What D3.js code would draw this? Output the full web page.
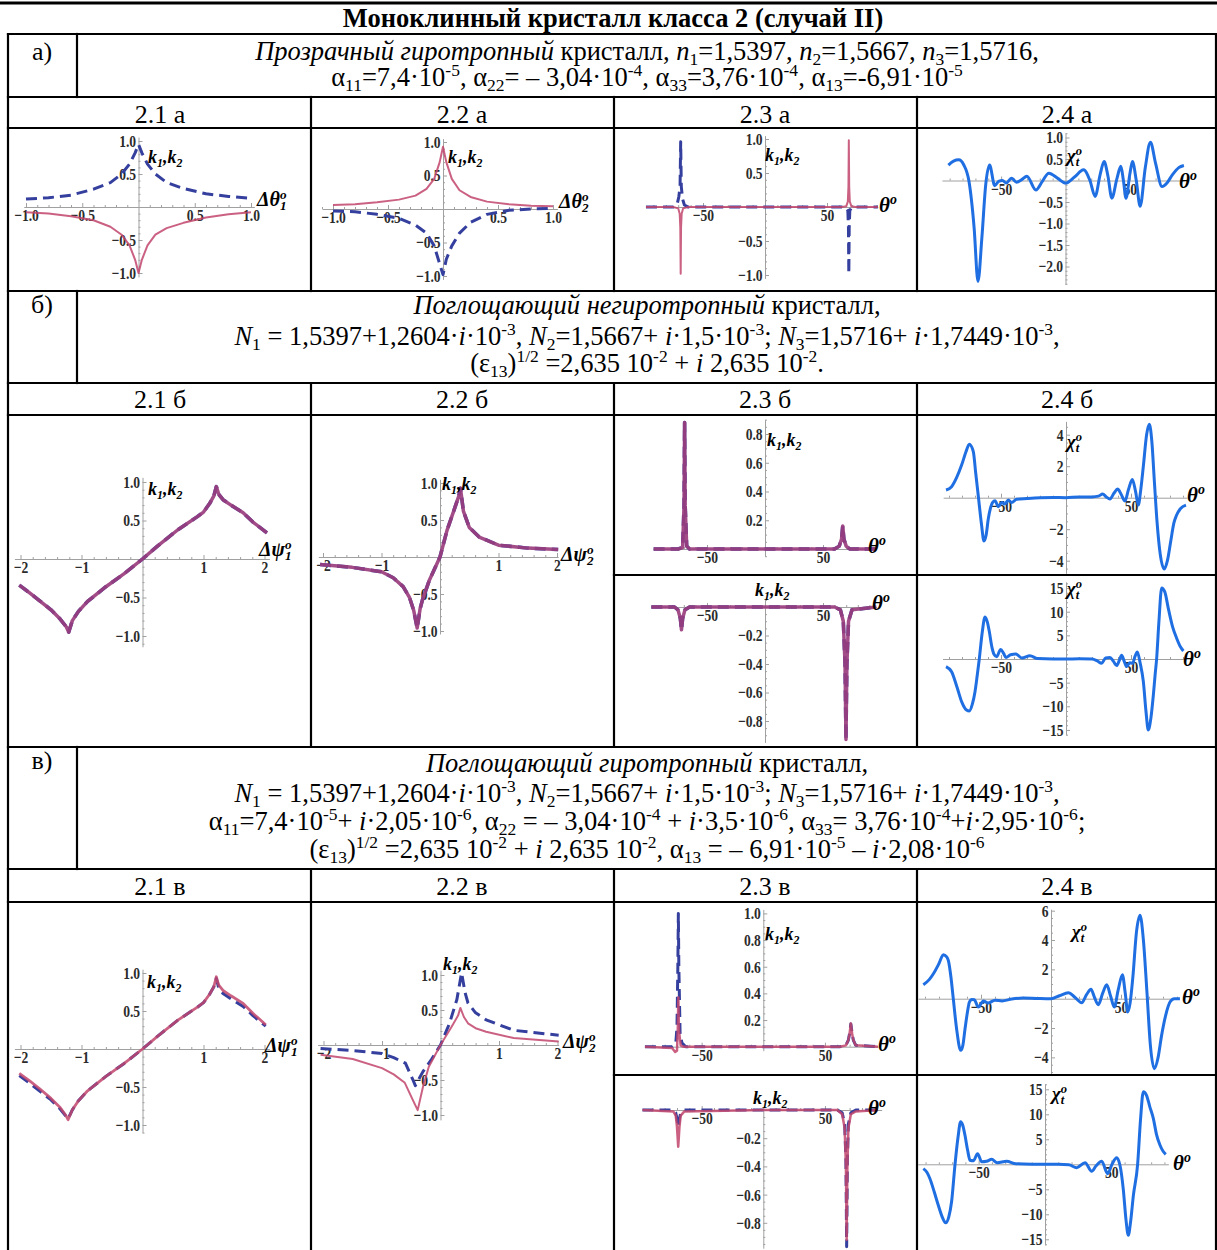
<!DOCTYPE html>
<html lang="ru">
<head>
<meta charset="UTF-8">
<title>Моноклинный кристалл класса 2 (случай II)</title>
<script src="https://d3js.org/d3.v7.min.js"></script>
<style>
  body { margin: 0; background: #fff; }
  svg text { font-family: "Liberation Serif", "Times New Roman", serif; white-space: pre; fill: #000; }
  .ax path, .ax line { stroke: #a0a0a0; stroke-width: 1; }
</style>
</head>
<body>
<svg id="chart" width="1217" height="1250"></svg>
<script>
// ---------- texts ----------
const titleText = "Моноклинный кристалл класса 2 (случай II)";
const rowMarks = ["а)", "б)", "в)"];
const rowAText = [
  "<i>Прозрачный гиротропный</i> кристалл, <i>n</i>_{1}=1,5397, <i>n</i>_{2}=1,5667, <i>n</i>_{3}=1,5716,",
  "α_{11}=7,4·10^{-5}, α_{22}= – 3,04·10^{-4}, α_{33}=3,76·10^{-4}, α_{13}=-6,91·10^{-5}"
];
const rowBText = [
  "<i>Поглощающий негиротропный</i> кристалл,",
  "<i>N</i>_{1} = 1,5397+1,2604·<i>i</i>·10^{-3}, <i>N</i>_{2}=1,5667+ <i>i</i>·1,5·10^{-3}; <i>N</i>_{3}=1,5716+ <i>i</i>·1,7449·10^{-3},",
  "(ε_{13})^{1/2} =2,635 10^{-2} + <i>i</i> 2,635 10^{-2}."
];
const rowCText = [
  "<i>Поглощающий гиротропный</i> кристалл,",
  "<i>N</i>_{1} = 1,5397+1,2604·<i>i</i>·10^{-3}, <i>N</i>_{2}=1,5667+ <i>i</i>·1,5·10^{-3}; <i>N</i>_{3}=1,5716+ <i>i</i>·1,7449·10^{-3},",
  "α_{11}=7,4·10^{-5}+ <i>i</i>·2,05·10^{-6}, α_{22} = – 3,04·10^{-4} + <i>i</i>·3,5·10^{-6}, α_{33}= 3,76·10^{-4}+<i>i</i>·2,95·10^{-6};",
  "(ε_{13})^{1/2} =2,635 10^{-2} + <i>i</i> 2,635 10^{-2}, α_{13} = – 6,91·10^{-5} – <i>i</i>·2,08·10^{-6}"
];
const colNames = ["2.1", "2.2", "2.3", "2.4"];
const rowLetters = ["а", "б", "в"];

const labK = "<i>k_{1},k_{2}</i>";
const labTheta = "<i>θ^{o}</i>";
const labChi = "<i>χ_{t}^{o}</i>";
const labDTheta1 = "<i>Δθ_{1}^{o}</i>";
const labDTheta2 = "<i>Δθ_{2}^{o}</i>";
const labDPsi1 = "<i>Δψ_{1}^{o}</i>";
const labDPsi2 = "<i>Δψ_{2}^{o}</i>";

// ---------- data: row а ----------
const a21_x = [-1, -0.8, -0.6, -0.4, -0.25, -0.15, -0.08, -0.03, 0, 0.03, 0.08, 0.15, 0.25, 0.4, 0.6, 0.8, 1];
const a21_dash = [0.12, 0.14, 0.18, 0.27, 0.37, 0.5, 0.65, 0.82, 0.95, 0.82, 0.65, 0.5, 0.37, 0.28, 0.2, 0.16, 0.13];
const a21_solid = [-0.08, -0.1, -0.14, -0.2, -0.3, -0.42, -0.58, -0.8, -1.0, -0.8, -0.58, -0.42, -0.32, -0.24, -0.16, -0.11, -0.08];

const a22_x = [-1, -0.8, -0.6, -0.4, -0.25, -0.15, -0.08, -0.03, 0, 0.03, 0.08, 0.15, 0.25, 0.4, 0.6, 0.8, 1];
const a22_solid = [0.06, 0.07, 0.1, 0.14, 0.2, 0.3, 0.45, 0.7, 0.93, 0.7, 0.45, 0.28, 0.18, 0.11, 0.07, 0.05, 0.04];
const a22_dash = [-0.03, -0.04, -0.08, -0.14, -0.24, -0.36, -0.55, -0.82, -0.98, -0.75, -0.55, -0.36, -0.2, -0.08, -0.02, 0.0, 0.01];

const a23_xd = [-96, -74, -71, -69.5, -68.5, -68, -67.5, -66.5, -65, -62, 0, 62, 65.5, 66.8, 67.3, 67.6, 67.9, 68.4, 69.7, 73, 91];
const a23_dash = [0, 0, 0.03, 0.15, 0.3, 0.96, 0.3, 0.12, 0.03, 0, 0, 0, -0.01, -0.05, -0.3, -0.98, -0.3, -0.05, -0.01, 0, 0];
const a23_xs = [-96, -74, -70, -68.8, -68.3, -68, -67.7, -67.2, -66, -62, 0, 62, 65.5, 66.8, 67.3, 67.6, 67.9, 68.4, 69.7, 73, 91];
const a23_solid = [0, 0, -0.02, -0.1, -0.3, -0.98, -0.3, -0.1, -0.02, 0, 0, 0, 0.01, 0.08, 0.3, 0.98, 0.3, 0.08, 0.01, 0, 0];

const a24_x = [-91, -87, -83, -79, -75, -71, -68, -65, -62, -59, -55, -52, -49, -46, -42, -38, -34, -30, -23, -18, -13, -6, 0,
  7, 14, 19, 23, 27, 30, 33, 36, 40, 43, 45, 47, 50, 52, 55, 58, 62, 66, 70, 75, 79, 83, 88, 92];
const a24_chi = [0.36, 0.45, 0.48, 0.36, -0.02, -1.1, -2.35, -1.34, -0.1, 0.36, -0.12, -0.02, 0.0, -0.06, 0.05, -0.04, 0.02, 0.1, -0.22, -0.02, 0.17, 0.05, -0.06,
  0.08, 0.25, 0.0, -0.37, 0.15, 0.44, 0.1, -0.41, 0.05, 0.33, 0.0, -0.41, 0.15, 0.44, 0.0, -0.6, 0.3, 0.89, 0.4, -0.14, -0.05, 0.13, 0.3, 0.35];

// ---------- data: row б ----------
const b21_x = [-2.02, -1.85, -1.69, -1.5, -1.35, -1.25, -1.21, -1.15, -1.05, -0.9, -0.6, -0.3, 0, 0.25, 0.58, 0.9, 1.0, 1.1, 1.17, 1.21, 1.25, 1.32, 1.45, 1.65, 1.81, 2.04];
const b21_k = [-0.34, -0.44, -0.54, -0.66, -0.78, -0.88, -0.95, -0.8, -0.68, -0.55, -0.36, -0.19, 0, 0.17, 0.38, 0.55, 0.61, 0.72, 0.82, 0.94, 0.84, 0.77, 0.7, 0.6, 0.48, 0.34];

const b22_x = [-2.05, -1.5, -1.0, -0.8, -0.63, -0.52, -0.45, -0.39, -0.34, -0.3, -0.18, 0, 0.12, 0.26, 0.32, 0.35, 0.4, 0.5, 0.67, 1.0, 1.5, 2.02];
const b22_k = [-0.1, -0.14, -0.2, -0.28, -0.4, -0.55, -0.72, -0.96, -0.7, -0.58, -0.31, 0, 0.36, 0.68, 0.82, 0.93, 0.62, 0.4, 0.27, 0.16, 0.12, 0.1];

const b23u_x = [-96, -75, -71, -69.8, -69.3, -68.8, -67.5, -65, 0, 60, 64, 66, 67, 68, 70, 73, 96];
const b23u_k = [0, 0, 0.01, 0.3, 0.88, 0.3, 0.02, 0, 0, 0, 0.02, 0.07, 0.16, 0.07, 0.02, 0, 0];
const b23l_x = [-98, -78, -75, -73, -72, -71, -69, -65, 0, 60, 65, 67.5, 69, 69.8, 70.6, 72, 75, 96];
const b23l_k = [0, 0, -0.02, -0.08, -0.16, -0.08, -0.02, 0, 0, 0, -0.02, -0.1, -0.4, -0.93, -0.4, -0.1, -0.02, 0];

const b24u_x = [-92.3, -88, -84, -80.3, -77, -74.4, -71.3, -69.5, -67.4, -65, -63.1, -61.5, -59.7, -56.4, -54.6, -52, -49.5, -47, -44.4, -41.8, -38, -30, -20, -10, 0,
  10, 20, 25, 28.2, 31, 33.8, 37, 39.7, 42.5, 45.4, 48, 51, 53.5, 55.6, 57.5, 59.5, 62, 64.1, 66, 68, 70, 72.5, 75.6, 78, 80.5, 83, 85.1, 88, 92.3];
const b24u_chi = [0.49, 0.7, 1.3, 2.07, 2.9, 3.39, 2.92, 1.6, 0.06, -1.7, -2.75, -2.4, -1.31, -0.3, -0.2, -0.57, -0.3, -0.4, -0.15, -0.3, -0.1, -0.05, 0, 0.02, 0,
  0.05, 0.05, 0.1, 0.23, 0.05, -0.08, 0.3, 0.55, 0.2, -0.21, 0.5, 1.16, 0.4, -0.47, 0.5, 2.0, 4.0, 4.66, 3.6, 1.0, -1.5, -3.6, -4.53, -4.0, -2.8, -1.6, -1.1, -0.7, -0.47];

const b24l_x = [-92.3, -88, -84, -80.3, -76.5, -74.4, -72, -70, -68.3, -66.7, -64.5, -62.3, -60.5, -59, -57, -55.4, -53.3, -50.3, -48, -46.2, -42.6, -38.5, -34, -27.7, -22, -10, 0,
  10, 20, 24, 27.4, 30.5, 33.8, 36.5, 39, 41, 42.8, 44.8, 46.7, 49, 51.3, 53, 54.9, 57, 59.5, 61.5, 63.3, 65.3, 67.2, 68.5, 69.7, 71.5, 73.6, 76, 78.7, 82, 85.1, 88, 90.3];
const b24l_chi = [-1.6, -2.7, -5.8, -9, -10.8, -11, -9.5, -6.9, -3.5, 0, 5.5, 8.9, 7.8, 5.8, 2.5, 1, 0.5, 2, 1.2, 0.3, 0.9, 1.05, 0.2, 0.7, 0.1, 0, 0,
  0.05, 0, -0.4, -0.9, 0.2, 0.3, -0.5, -1.4, -0.3, 0.8, -0.5, -1.6, -0.8, -0.9, 0.5, 1.5, -0.8, -4.8, -11, -15, -12.5, -7.6, -3.5, 0, 8, 15, 14.2, 10.7, 6.8, 4.4, 2.6, 1.7];

// ---------- data: row в ----------
const c21_x = [-2.02, -1.85, -1.69, -1.5, -1.35, -1.26, -1.22, -1.15, -1.05, -0.9, -0.6, -0.3, 0, 0.25, 0.58, 0.9, 1.0, 1.1, 1.17, 1.21, 1.25, 1.32, 1.45, 1.65, 1.81, 2.02];
const c21_solid = [-0.32, -0.42, -0.52, -0.65, -0.77, -0.87, -0.93, -0.8, -0.68, -0.55, -0.36, -0.19, 0, 0.17, 0.38, 0.55, 0.61, 0.72, 0.82, 0.95, 0.84, 0.77, 0.7, 0.6, 0.47, 0.32];
const c21_dash = [-0.35, -0.45, -0.55, -0.67, -0.79, -0.88, -0.92, -0.8, -0.68, -0.55, -0.36, -0.19, 0, 0.17, 0.38, 0.55, 0.61, 0.72, 0.82, 0.93, 0.8, 0.73, 0.66, 0.56, 0.44, 0.3];

const c22_xs = [-2.05, -1.5, -1.0, -0.8, -0.61, -0.47, -0.39, -0.3, -0.2, 0, 0.19, 0.3, 0.34, 0.4, 0.47, 0.6, 0.78, 1.25, 2.02];
const c22_solid = [-0.14, -0.2, -0.33, -0.42, -0.54, -0.79, -0.93, -0.6, -0.31, 0, 0.26, 0.42, 0.53, 0.4, 0.31, 0.24, 0.19, 0.1, 0.05];
const c22_xd = [-2.05, -1.5, -1.0, -0.8, -0.6, -0.47, -0.43, -0.3, -0.15, 0, 0.15, 0.28, 0.36, 0.42, 0.47, 0.6, 0.78, 1.25, 2.02];
const c22_dash = [-0.05, -0.08, -0.12, -0.18, -0.26, -0.5, -0.58, -0.38, -0.2, 0, 0.3, 0.65, 1.03, 0.75, 0.6, 0.46, 0.36, 0.21, 0.14];

const c23u_xd = [-96, -74, -71, -70, -69.3, -68.9, -68.5, -67.5, -66, -63, 0, 62, 67, 69, 70, 71, 72, 73, 75, 93];
const c23u_dash = [0, 0, 0.02, 0.15, 0.6, 1.0, 0.6, 0.1, 0.03, 0, 0, 0, 0.01, 0.05, 0.1, 0.17, 0.1, 0.05, 0.01, 0];
const c23u_xs = [-96, -74, -71.5, -70, -69.3, -68.9, -68.4, -67, -65, 0, 62, 67, 69, 70, 71, 72, 73, 75, 93];
const c23u_solid = [0, -0.01, -0.04, -0.03, 0.15, 0.37, 0.12, 0.01, 0, 0, 0, 0.01, 0.05, 0.1, 0.175, 0.1, 0.05, 0.01, 0];

const c23l_x = [-98, -73, -71, -70, -69, -68, -67, -64, 0, 60, 64, 66, 67, 67.6, 68.2, 69, 71, 75, 93];
const c23l_dash = [0, 0, -0.02, -0.06, -0.12, -0.06, -0.02, 0, 0, 0, -0.02, -0.1, -0.35, -0.97, -0.35, -0.1, -0.02, 0, 0];
const c23l_solid = [0, -0.01, -0.04, -0.12, -0.26, -0.12, -0.04, -0.01, 0, 0, -0.03, -0.13, -0.4, -0.92, -0.4, -0.13, -0.03, -0.01, 0];

const c24u_x = [-91.2, -87, -84, -80, -76.9, -74.5, -73.3, -71.5, -69.8, -67.5, -64.5, -63, -61.4, -59.5, -58.3, -56.5, -54.8, -51.9, -48.3, -45, -40, -35, -28, -20, -10, 0,
  6, 12.4, 17, 21.9, 25.5, 28.6, 31, 33.8, 37, 39.8, 42.5, 45.2, 48, 51, 53, 54.8, 56.5, 58.5, 61, 63.6, 66, 68.5, 71, 73.8, 76.5, 79, 82, 85, 88, 92.1];
const c24u_chi = [0.95, 1.3, 1.7, 2.4, 3.0, 2.85, 2.6, 1.5, 0, -2.0, -3.52, -3.2, -2.05, -0.8, -0.23, -0.05, -0.07, -0.57, -0.15, -0.3, -0.1, -0.15, -0.02, 0.05, 0.02, 0,
  0.2, 0.41, 0.1, -0.27, 0.3, 0.64, 0.1, -0.41, 0.4, 0.95, 0.2, -0.57, 0.6, 1.64, 0.4, -0.9, -0.3, 1.5, 4.5, 5.68, 4.0, 0.5, -3.2, -4.77, -4.0, -2.5, -1.1, -0.23, 0, 0];

const c24l_x = [-91.7, -89, -86.7, -83.5, -80.4, -77.5, -74.9, -72.5, -70.4, -67.8, -65.5, -63.6, -62, -60.3, -58.3, -56.5, -54, -50.8, -47.7, -44, -40.2, -36, -28.9, -22, -10, 0,
  10, 18, 23.9, 30.2, 35.2, 38.5, 42.7, 47.2, 50.5, 54, 56.5, 59, 61, 62.8, 64.5, 66.6, 69.8, 72, 74.1, 76.5, 79, 81.7, 84, 86.7, 89, 91];
const c24l_chi = [-0.87, -1.6, -2.9, -5.5, -8.2, -10.5, -11.7, -10.5, -7.5, 0, 5.5, 8.5, 7.8, 5.8, 2.8, 0.8, 0.7, 2.1, 0.5, 0.6, 1.0, 0.3, 0.6, 0.1, 0, 0,
  0, -0.1, -0.67, 0.33, -1.4, -0.3, 0.6, -1.9, 0, 1.3, -0.2, -5, -11, -14.2, -11.5, -6.2, 0, 9, 14.5, 13.8, 11.5, 9.1, 6, 3.8, 2.6, 2];

// ---------- drawing ----------
const SERIF = "'Liberation Serif', 'Times New Roman', serif";
const svg = d3.select("#chart");
svg.append("rect").attr("width", 1217).attr("height", 1250).attr("fill", "#fff");

// rich text: <i>..</i> italic, _{..} subscript, ^{..} superscript
function rich(parent, str, x, y, size, anchor, bold) {
  const t = parent.append("text").attr("x", x).attr("y", y)
    .style("font-family", SERIF).style("font-size", size + "px")
    .attr("text-anchor", anchor || "start");
  if (bold) t.style("font-weight", "bold");
  let italic = false, shift = 0, lastSub = null;
  str.split(/(<i>|<\/i>|_\{[^}]*\}|\^\{[^}]*\})/).forEach(tok => {
    if (!tok) return;
    if (tok === "<i>") { italic = true; return; }
    if (tok === "</i>") { italic = false; return; }
    const isSub = tok.startsWith("_{"), isSup = tok.startsWith("^{");
    let off = 0, txt = tok, dx = 0;
    if (isSub) { off = 0.2 * size; txt = tok.slice(2, -1); }
    if (isSup) {
      off = -0.36 * size; txt = tok.slice(2, -1);
      if (lastSub) dx = -lastSub.node().getComputedTextLength();
    }
    const s = t.append("tspan").attr("dy", off - shift).text(txt);
    if (dx) s.attr("dx", dx);
    if (isSub || isSup) s.style("font-size", (size * 0.66) + "px");
    if (italic) s.style("font-style", "italic");
    lastSub = isSub ? s : null;
    shift = off;
  });
  return t;
}

// table grid
const grid = svg.append("g").attr("stroke", "#000").attr("stroke-width", 2.2).attr("stroke-linecap", "square");
function hl(y, x1, x2, w) { grid.append("line").attr("x1", x1).attr("x2", x2).attr("y1", y).attr("y2", y).attr("stroke-width", w || 2.2); }
function vl(x, y1, y2) { grid.append("line").attr("x1", x).attr("x2", x).attr("y1", y1).attr("y2", y2); }
hl(3, 0, 1217, 3);
[34, 97, 128, 291, 383, 415, 747, 869, 902].forEach(y => hl(y, 8, 1217));
hl(575, 614, 1217); hl(1075, 614, 1217);
vl(8, 34, 1250); vl(1216, 34, 1250);
[[34, 97], [291, 383], [747, 869]].forEach(([a, b]) => vl(77, a, b));
[[97, 291], [383, 747], [869, 1250]].forEach(([a, b]) => [311, 614, 917].forEach(x => vl(x, a, b)));

const txt = svg.append("g");
txt.append("text").attr("x", 613).attr("y", 27).attr("text-anchor", "middle")
  .style("font-family", SERIF).style("font-size", "26.5px").style("font-weight", "bold").text(titleText);

const markY = [60, 313, 769];
rowMarks.forEach((m, i) => txt.append("text").attr("x", 42).attr("y", markY[i]).attr("text-anchor", "middle")
  .style("font-family", SERIF).style("font-size", "26px").text(m));

const rowBlocks = [[rowAText, [60, 86]], [rowBText, [314, 345, 372]], [rowCText, [772, 802, 830, 858]]];
rowBlocks.forEach(([lines, ys]) => lines.forEach((s, j) => rich(txt, s, 647, ys[j], 26.5, "middle")));

const subY = [123, 408, 895];
const colCenter = [160, 462, 765, 1067];
rowLetters.forEach((r, i) => colNames.forEach((c, j) =>
  txt.append("text").attr("x", colCenter[j]).attr("y", subY[i]).attr("text-anchor", "middle")
    .style("font-family", SERIF).style("font-size", "26px").text(c + " " + r)));

// plot styles
const styles = {
  dash: { stroke: "#343f9e", width: 3, dash: "11,6", opacity: 1 },
  solid: { stroke: "#c2456c", width: 2, dash: null, opacity: 0.85 },
  mix: { stroke: "#9a3d7e", width: 3.5, dash: null, opacity: 0.92 },
  chi: { stroke: "#1f6fe3", width: 3, dash: null, opacity: 1 }
};

function zip(xs, ys) { return xs.map((v, i) => [v, ys[i]]); }
function minorTicks(ext, step, major) {
  const n0 = Math.ceil(ext[0] / step), n1 = Math.floor(ext[1] / step);
  return d3.range(n0, n1 + 1).map(k => +(k * step).toFixed(6))
    .filter(v => v !== 0 && !major.some(m => Math.abs(m - v) < 1e-6));
}
// Mathematica-like bold tick labels, a little narrower than plain Times
function tickFont(sel) {
  sel.selectAll(".tick text").style("font-family", SERIF).style("font-size", "17px")
    .style("font-weight", "bold").style("fill", "#2b2b2b").attr("transform", "scale(0.8,1)");
}

function drawPanel(p) {
  const x = d3.scaleLinear().domain(p.xExt).range(p.xExt.map(v => p.ox + v * p.sx));
  const y = d3.scaleLinear().domain(p.yExt).range(p.yExt.map(v => p.oy - v * p.sy));
  const g = svg.append("g");
  const gx = g.append("g").attr("class", "ax").attr("transform", `translate(0,${y(0)})`);
  gx.call(d3.axisBottom(x).tickValues(p.xMajor).tickFormat(d3.format(p.xFmt)).tickSize(-4).tickSizeOuter(0).tickPadding(2));
  gx.append("g").call(d3.axisBottom(x).tickValues(minorTicks(p.xExt, p.xMinor, p.xMajor)).tickSize(-2).tickFormat(""))
    .select(".domain").remove();
  tickFont(gx);
  const gy = g.append("g").attr("class", "ax").attr("transform", `translate(${x(0)},0)`);
  gy.call(d3.axisLeft(y).tickValues(p.yMajor).tickFormat(d3.format(p.yFmt)).tickSize(-4).tickSizeOuter(0).tickPadding(3));
  gy.append("g").call(d3.axisLeft(y).tickValues(minorTicks(p.yExt, p.yMinor, p.yMajor)).tickSize(-2).tickFormat(""))
    .select(".domain").remove();
  tickFont(gy);

  const line = d3.line().x(d => x(d[0])).y(d => y(d[1]));
  p.series.forEach(s => {
    const st = styles[s.kind];
    g.append("path").datum(zip(s.x, s.y))
      .attr("fill", "none").attr("stroke", st.stroke)
      .attr("stroke-width", s.width || st.width).attr("stroke-opacity", st.opacity)
      .attr("stroke-dasharray", st.dash).attr("stroke-linejoin", "round")
      .attr("d", line.curve(s.kind === "chi" ? d3.curveMonotoneX : d3.curveLinear));
  });
  rich(g, p.yLab[0], p.yLab[1], p.yLab[2], p.yLab[3], "start", true);
  rich(g, p.xLab[0], p.xLab[1], p.xLab[2], p.xLab[3], "start", true);
}

const kTicks = [-1, -0.5, 0.5, 1];
const psiTicks = [-2, -1, 1, 2];
const degTicks = [-50, 50];

const panels = [
  { ox: 138.5, oy: 207, sx: 112.5, sy: 66, xExt: [-1.02, 1.03], yExt: [-1.06, 1.06],
    xMajor: kTicks, xMinor: 0.1, xFmt: ".1f", yMajor: kTicks, yMinor: 0.1, yFmt: ".1f",
    yLab: [labK, 148, 163, 18], xLab: [labDTheta1, 257, 206, 20],
    series: [{ x: a21_x, y: a21_dash, kind: "dash" }, { x: a21_x, y: a21_solid, kind: "solid" }] },
  { ox: 443, oy: 209, sx: 110, sy: 67, xExt: [-1.1, 1.04], yExt: [-1.05, 1.05],
    xMajor: kTicks, xMinor: 0.1, xFmt: ".1f", yMajor: kTicks, yMinor: 0.1, yFmt: ".1f",
    yLab: [labK, 448, 163, 18], xLab: [labDTheta2, 559, 208, 20],
    series: [{ x: a22_x, y: a22_dash, kind: "dash" }, { x: a22_x, y: a22_solid, kind: "solid" }] },
  { ox: 765, oy: 207, sx: 1.24, sy: 68, xExt: [-96, 91], yExt: [-1.05, 1.05],
    xMajor: degTicks, xMinor: 10, xFmt: "d", yMajor: kTicks, yMinor: 0.1, yFmt: ".1f",
    yLab: [labK, 765, 161, 18], xLab: [labTheta, 879, 212, 21],
    series: [{ x: a23_xd, y: a23_dash, kind: "dash" }, { x: a23_xs, y: a23_solid, kind: "solid" }] },
  { ox: 1065.5, oy: 180.5, sx: 1.287, sy: 43, xExt: [-96, 92], yExt: [-2.42, 1.1],
    xMajor: degTicks, xMinor: 10, xFmt: "d", yMajor: [-2, -1.5, -1, -0.5, 0.5, 1], yMinor: 0.1, yFmt: ".1f",
    yLab: [labChi, 1067, 162, 19], xLab: [labTheta, 1179, 188, 21],
    series: [{ x: a24_x, y: a24_chi, kind: "chi" }] },

  { ox: 142.5, oy: 559, sx: 61, sy: 77, xExt: [-2.1, 2.08], yExt: [-1.14, 1.06],
    xMajor: psiTicks, xMinor: 0.2, xFmt: "d", yMajor: kTicks, yMinor: 0.1, yFmt: ".1f",
    yLab: [labK, 148, 495, 18], xLab: [labDPsi1, 259, 556, 20],
    series: [{ x: b21_x, y: b21_k, kind: "dash", width: 3.5 }, { x: b21_x, y: b21_k, kind: "mix" }] },
  { ox: 440, oy: 557, sx: 58.5, sy: 74, xExt: [-2.08, 2.02], yExt: [-1.04, 1.05],
    xMajor: psiTicks, xMinor: 0.2, xFmt: "d", yMajor: kTicks, yMinor: 0.1, yFmt: ".1f",
    yLab: [labK, 442, 490, 18], xLab: [labDPsi2, 561, 561, 20],
    series: [{ x: b22_x, y: b22_k, kind: "dash", width: 3.5 }, { x: b22_x, y: b22_k, kind: "mix" }] },
  { ox: 765, oy: 549, sx: 1.16, sy: 143.75, xExt: [-96.5, 95.7], yExt: [-0.05, 0.9],
    xMajor: degTicks, xMinor: 10, xFmt: "d", yMajor: [0.2, 0.4, 0.6, 0.8], yMinor: 0.05, yFmt: ".1f",
    yLab: [labK, 767, 446, 18], xLab: [labTheta, 868, 553, 21],
    series: [{ x: b23u_x, y: b23u_k, kind: "dash", width: 3.5 }, { x: b23u_x, y: b23u_k, kind: "mix" }] },
  { ox: 765, oy: 607, sx: 1.16, sy: 142.5, xExt: [-98, 96], yExt: [-0.95, 0.05],
    xMajor: degTicks, xMinor: 10, xFmt: "d", yMajor: [-0.8, -0.6, -0.4, -0.2], yMinor: 0.05, yFmt: ".1f",
    yLab: [labK, 755, 596, 18], xLab: [labTheta, 872, 610, 21],
    series: [{ x: b23l_x, y: b23l_k, kind: "dash", width: 3.5 }, { x: b23l_x, y: b23l_k, kind: "mix" }] },
  { ox: 1066, oy: 497.7, sx: 1.3, sy: 15.75, xExt: [-94.5, 93], yExt: [-4.8, 4.85],
    xMajor: degTicks, xMinor: 10, xFmt: "d", yMajor: [-4, -2, 2, 4], yMinor: 0.5, yFmt: "d",
    yLab: [labChi, 1067, 448, 19], xLab: [labTheta, 1187, 502, 21],
    series: [{ x: b24u_x, y: b24u_chi, kind: "chi" }] },
  { ox: 1066, oy: 659, sx: 1.3, sy: 4.73, xExt: [-95, 92], yExt: [-16, 16.3],
    xMajor: degTicks, xMinor: 10, xFmt: "d", yMajor: [-15, -10, -5, 5, 10, 15], yMinor: 1, yFmt: "d",
    yLab: [labChi, 1067, 595, 19], xLab: [labTheta, 1183, 666, 21],
    series: [{ x: b24l_x, y: b24l_chi, kind: "chi" }] },

  { ox: 142.5, oy: 1049, sx: 61, sy: 76, xExt: [-2.1, 2.08], yExt: [-1.1, 1.05],
    xMajor: psiTicks, xMinor: 0.2, xFmt: "d", yMajor: kTicks, yMinor: 0.1, yFmt: ".1f",
    yLab: [labK, 147, 988, 18], xLab: [labDPsi1, 265, 1052, 20],
    series: [{ x: c21_x, y: c21_dash, kind: "dash" }, { x: c21_x, y: c21_solid, kind: "solid", width: 2.8 }] },
  { ox: 440.5, oy: 1045, sx: 58.5, sy: 70, xExt: [-2.1, 2.02], yExt: [-1.07, 1.07],
    xMajor: psiTicks, xMinor: 0.2, xFmt: "d", yMajor: kTicks, yMinor: 0.1, yFmt: ".1f",
    yLab: [labK, 443, 970, 18], xLab: [labDPsi2, 563, 1048, 20],
    series: [{ x: c22_xd, y: c22_dash, kind: "dash" }, { x: c22_xs, y: c22_solid, kind: "solid" }] },
  { ox: 763.3, oy: 1046.7, sx: 1.233, sy: 133.3, xExt: [-96, 93], yExt: [-0.03, 1.03],
    xMajor: degTicks, xMinor: 10, xFmt: "d", yMajor: [0.2, 0.4, 0.6, 0.8, 1], yMinor: 0.05, yFmt: ".1f",
    yLab: [labK, 765, 940, 18], xLab: [labTheta, 878, 1051, 21],
    series: [{ x: c23u_xd, y: c23u_dash, kind: "dash" }, { x: c23u_xs, y: c23u_solid, kind: "solid", width: 2.5 }] },
  { ox: 763.3, oy: 1110, sx: 1.233, sy: 141, xExt: [-98, 96], yExt: [-0.98, 0.02],
    xMajor: degTicks, xMinor: 10, xFmt: "d", yMajor: [-0.8, -0.6, -0.4, -0.2], yMinor: 0.05, yFmt: ".1f",
    yLab: [labK, 753, 1104, 18], xLab: [labTheta, 868, 1115, 21],
    series: [{ x: c23l_x, y: c23l_dash, kind: "dash" }, { x: c23l_x, y: c23l_solid, kind: "solid", width: 2.5 }] },
  { ox: 1051, oy: 998.7, sx: 1.4, sy: 14.67, xExt: [-95, 91], yExt: [-5.1, 6.1],
    xMajor: degTicks, xMinor: 10, xFmt: "d", yMajor: [-4, -2, 2, 4, 6], yMinor: 0.5, yFmt: "d",
    yLab: [labChi, 1072, 938, 19], xLab: [labTheta, 1182, 1004, 21],
    series: [{ x: c24u_x, y: c24u_chi, kind: "chi" }] },
  { ox: 1045, oy: 1164.3, sx: 1.327, sy: 5.0, xExt: [-96, 93], yExt: [-16.1, 16.1],
    xMajor: degTicks, xMinor: 10, xFmt: "d", yMajor: [-15, -10, -5, 5, 10, 15], yMinor: 1, yFmt: "d",
    yLab: [labChi, 1052, 1100, 19], xLab: [labTheta, 1173, 1170, 21],
    series: [{ x: c24l_x, y: c24l_chi, kind: "chi" }] }
];

panels.forEach(drawPanel);
</script>
</body>
</html>
